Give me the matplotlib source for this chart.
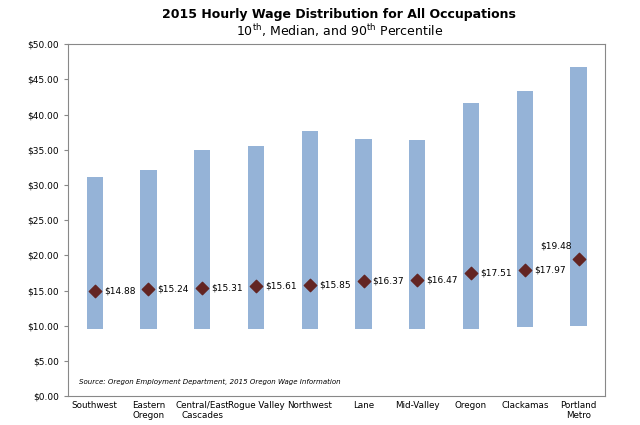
import matplotlib.pyplot as plt
import numpy as np

regions = ["Southwest", "Eastern\nOregon", "Central/East\nCascades", "Rogue Valley", "Northwest",
           "Lane", "Mid-Valley", "Oregon", "Clackamas", "Portland\nMetro"]
p10 = [9.5, 9.5, 9.5, 9.5, 9.5, 9.5, 9.5, 9.6, 9.8, 9.9]
p90 = [31.2, 32.1, 35.0, 35.6, 37.7, 36.6, 36.4, 41.7, 43.3, 46.7]
median = [14.88, 15.24, 15.31, 15.61, 15.85, 16.37, 16.47, 17.51, 17.97, 19.48]

fig = plt.figure(figsize=(6.4, 4.25), dpi=100)
ax = fig.add_axes([0.106, 0.068, 0.84, 0.828])
x = np.arange(len(regions))
ax.bar(x, np.array(p90) - np.array(p10), bottom=p10, width=0.3, color="#95B3D7")
ax.scatter(x, median, marker="D", s=40, color="#632523", zorder=3)
for i, m in enumerate(median):
    if i == len(median) - 1:
        ax.text(i - 0.12, m + 1.2, f"${m:.2f}", ha="right", va="bottom", fontsize=6.5)
    else:
        ax.text(i + 0.17, m, f"${m:.2f}", ha="left", va="center", fontsize=6.5)
ax.set_ylim(0, 50)
ax.set_xlim(-0.5, len(regions) - 0.5)
ax.set_yticks(np.arange(0, 51, 5))
ax.set_yticklabels([f"${v:.2f}" for v in np.arange(0, 51, 5)], fontsize=6.5)
ax.set_xticks(x)
ax.set_xticklabels(regions, fontsize=6.3)
ax.tick_params(axis="x", length=0)
ax.tick_params(axis="y", length=3, color="#888888")
for s in ax.spines.values():
    s.set_color("#888888")
ax.text(0.02, 0.035, "Source: Oregon Employment Department, 2015 Oregon Wage Information",
        transform=ax.transAxes, fontsize=5, style="italic")
fig.text(0.53, 0.965, "2015 Hourly Wage Distribution for All Occupations", ha="center",
         va="center", fontsize=9, fontweight="bold")
fig.text(0.53, 0.928, r"10$^{\rm th}$, Median, and 90$^{\rm th}$ Percentile", ha="center",
         va="center", fontsize=9)
fig.savefig("out.png")
